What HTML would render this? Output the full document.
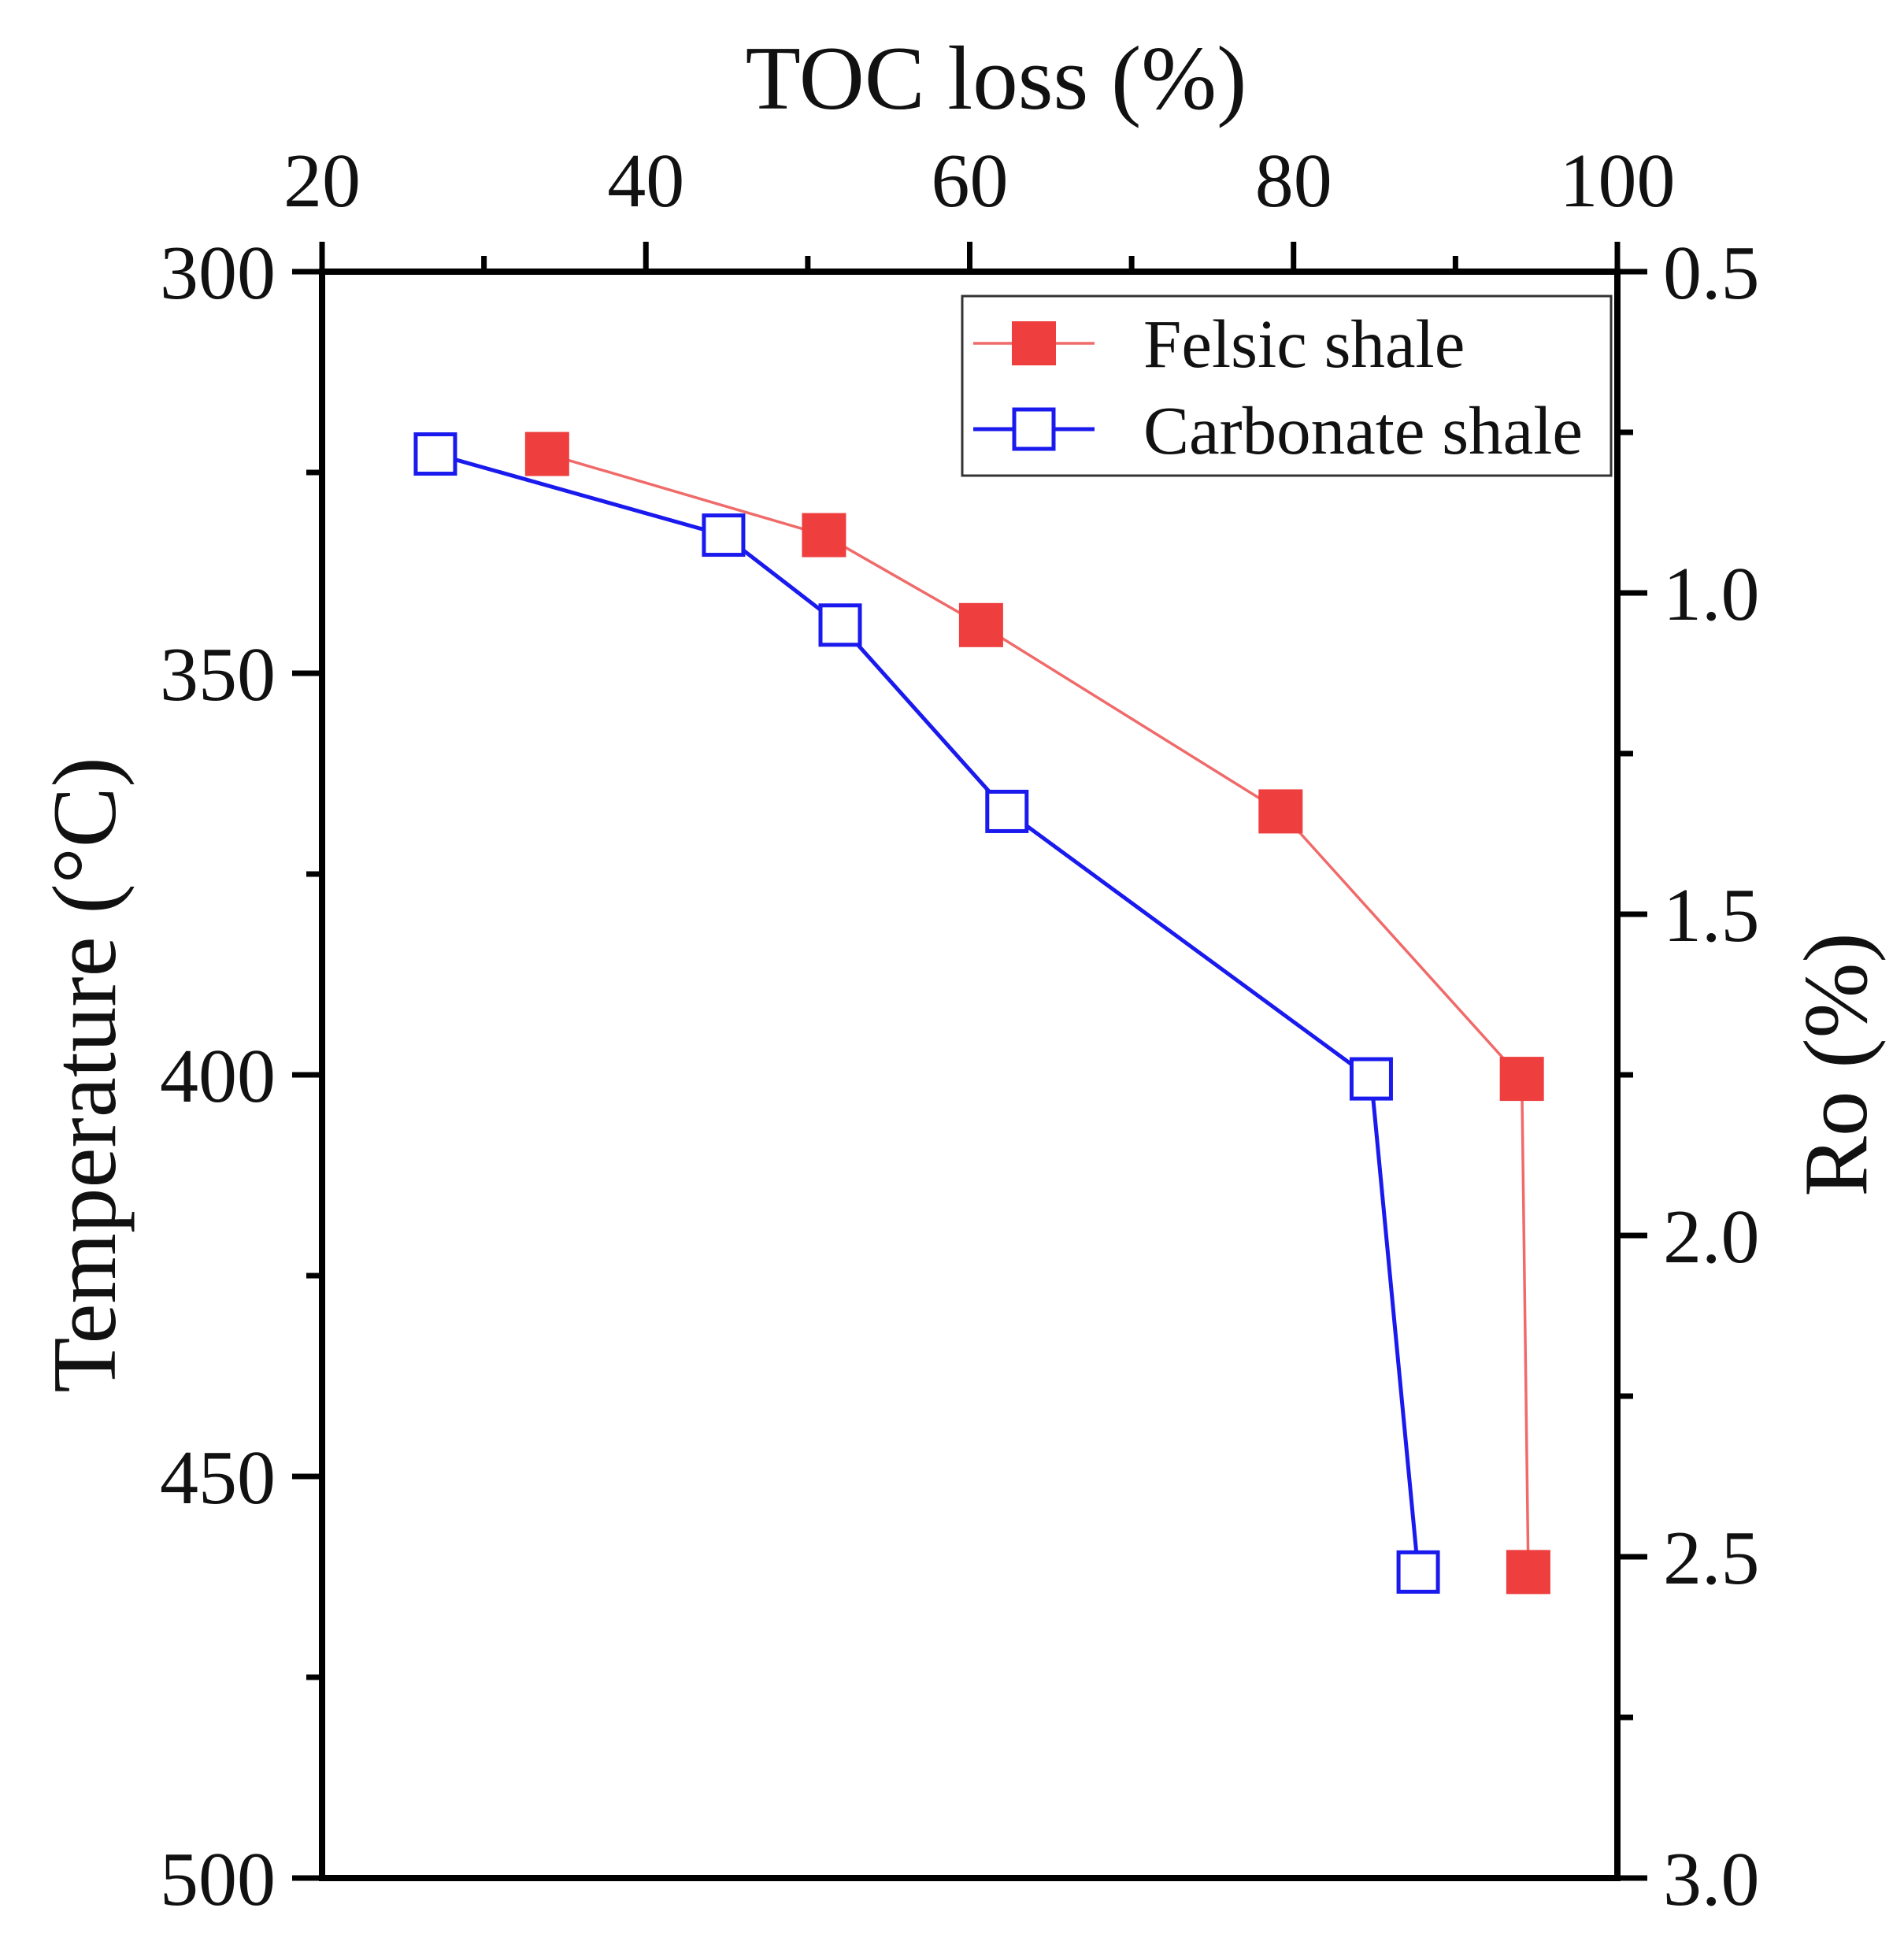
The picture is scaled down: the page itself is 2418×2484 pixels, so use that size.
<!DOCTYPE html>
<html><head><meta charset="utf-8"><style>
html,body{margin:0;padding:0;background:#fff}
svg{display:block;font-family:"Liberation Serif",serif}
</style></head><body>
<svg id="chart" width="2418" height="2484" viewBox="0 0 2418 2484" xmlns="http://www.w3.org/2000/svg">
<g id="axes"></g>
<g id="series"></g>
<g id="legend">
<rect x="1222" y="376" width="824" height="228" fill="#fff" stroke="#333" stroke-width="3"/>
<g>
<line x1="1236" y1="436" x2="1390" y2="436" stroke="#f06a6a" stroke-width="3.5"/>
<rect x="1285" y="408" width="56" height="56" fill="#ee3e3e"/>
<text x="1452" y="466" font-size="87" fill="#111">Felsic shale</text>
</g>
<g>
<line x1="1236" y1="545" x2="1390" y2="545" stroke="#1a1aee" stroke-width="5"/>
<rect x="1288" y="520" width="50" height="50" fill="#fff" stroke="#1a1aee" stroke-width="5"/>
<text x="1452" y="576" font-size="87" fill="#111">Carbonate shale</text>
</g>
</g>
</svg>
<script>
const xTicks = [20, 40, 60, 80, 100];
const yTicks = [300, 350, 400, 450, 500];
const roTicks = ["0.5", "1.0", "1.5", "2.0", "2.5", "3.0"];
const felsicX = [33.9, 51.0, 60.7, 79.2, 94.1, 94.5];
const felsicT = [322.7, 332.8, 344.0, 367.2, 400.5, 461.9];
const carbX = [27.0, 44.8, 52.0, 62.3, 84.8, 87.7];
const carbT = [322.7, 332.8, 344.0, 367.2, 400.5, 461.9];

const NS = "http://www.w3.org/2000/svg";
const L = 409, R = 2054, T = 345, B = 2385;
const sx = v => L + (v - 20) / 80 * (R - L);
const sy = v => T + (v - 300) / 200 * (B - T);
const sro = v => T + (v - 0.5) / 2.5 * (B - T);
function mk(tag, attrs, parent) {
  const e = document.createElementNS(NS, tag);
  for (const k in attrs) e.setAttribute(k, attrs[k]);
  parent.appendChild(e);
  return e;
}
const ax = document.getElementById('axes');
const frame = mk('rect', {x: L, y: T, width: R - L, height: B - T, fill: 'none', stroke: '#000', 'stroke-width': 8}, ax);


const tk = {stroke: '#000', 'stroke-width': 7};
xTicks.forEach(v => {
  mk('line', Object.assign({x1: sx(v), x2: sx(v), y1: T, y2: T - 38}, tk), ax);
  const t = mk('text', {x: sx(v), y: 262, 'font-size': 98, 'text-anchor': 'middle', fill: '#111'}, ax);
  t.textContent = v;
  
  
});
for (let v = 30; v < 100; v += 20) mk('line', Object.assign({x1: sx(v), x2: sx(v), y1: T, y2: T - 20}, tk), ax);
yTicks.forEach(v => {
  mk('line', Object.assign({x1: L, x2: L - 38, y1: sy(v), y2: sy(v)}, tk), ax);
  const t = mk('text', {x: 350, y: sy(v) + 34, 'font-size': 98, 'text-anchor': 'end', fill: '#111'}, ax);
  t.textContent = v;
  
  
});
for (let v = 325; v < 500; v += 50) mk('line', Object.assign({x1: L, x2: L - 20, y1: sy(v), y2: sy(v)}, tk), ax);
roTicks.forEach(s => {
  const v = parseFloat(s);
  mk('line', Object.assign({x1: R, x2: R + 38, y1: sro(v), y2: sro(v)}, tk), ax);
  const t = mk('text', {x: 2112, y: sro(v) + 34, 'font-size': 98, fill: '#111'}, ax);
  t.textContent = s;
  
  
});
for (let v = 0.75; v < 3; v += 0.5) mk('line', Object.assign({x1: R, x2: R + 20, y1: sro(v), y2: sro(v)}, tk), ax);
const xt = mk('text', {x: 1265, y: 138, 'font-size': 115, 'text-anchor': 'middle', fill: '#111'}, ax);
xt.textContent = 'TOC loss (%)';


const yt = mk('text', {x: 0, y: 0, 'font-size': 115, 'text-anchor': 'middle', fill: '#111', transform: 'translate(146,1365) rotate(-90)'}, ax);
yt.textContent = 'Temperature (°C)';


const rt = mk('text', {x: 0, y: 0, 'font-size': 115, 'text-anchor': 'middle', fill: '#111', transform: 'translate(2370,1352) rotate(-90)'}, ax);
rt.textContent = 'Ro (%)';



const sg = document.getElementById('series');
function series(xs, ts, color, lw, filled, name) {
  const g = mk('g', {}, sg);
  
  
  const pl = mk('polyline', {points: xs.map((x, i) => sx(x) + ',' + sy(ts[i])).join(' '), fill: 'none', stroke: color, 'stroke-width': lw}, g);
  
  
  xs.forEach((x, i) => {
    const s = filled ? 56 : 50;
    const r = mk('rect', {x: sx(x) - s / 2, y: sy(ts[i]) - s / 2, width: s, height: s,
      fill: filled ? '#ee3e3e' : '#fff', stroke: filled ? 'none' : color, 'stroke-width': 5}, g);
    
    
  });
}
series(felsicX, felsicT, '#f06a6a', 3.5, true, 'felsic-series');
series(carbX, carbT, '#1a1aee', 5, false, 'carbonate-series');
</script>
</body></html>
